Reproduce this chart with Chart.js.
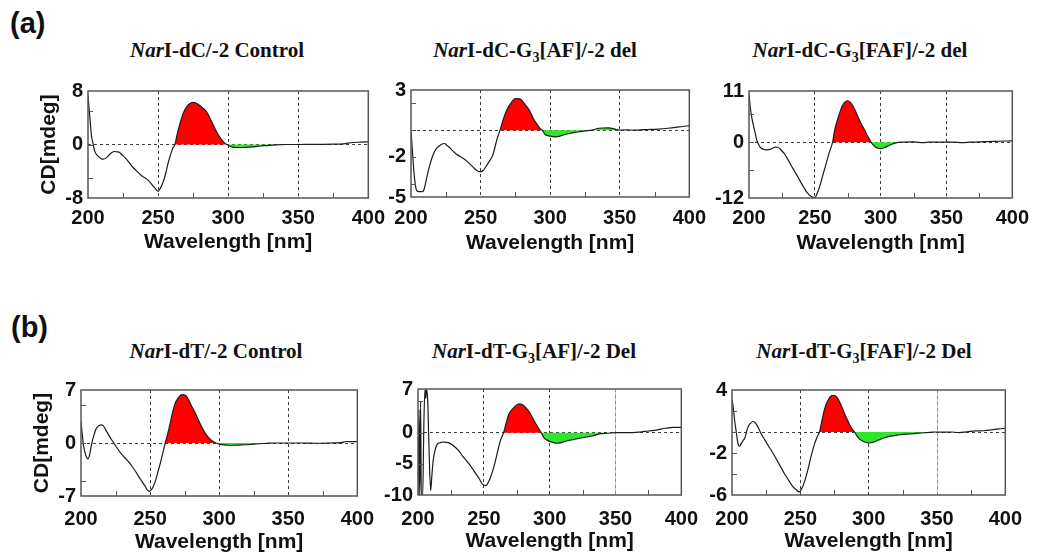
<!DOCTYPE html>
<html><head><meta charset="utf-8">
<script src="https://cdn.jsdelivr.net/npm/chart.js@4.4.1/dist/chart.umd.min.js"></script>
<style>
html,body{margin:0;padding:0;background:#fff;overflow:hidden;}
body{width:1037px;height:557px;position:relative;font-family:'Liberation Sans',Arial,sans-serif;}
canvas{position:absolute;}
.ttl{position:absolute;font-family:'Liberation Serif','Times New Roman',serif;font-weight:bold;font-size:21px;line-height:21px;white-space:nowrap;transform:translateX(-50%);color:#111;}
.ttl sub{font-size:14px;vertical-align:-5px;line-height:0;}
.lbl{position:absolute;font-weight:bold;font-size:29px;line-height:29px;color:#111;}
</style></head><body>
<div class="lbl" style="left:10px;top:9px">(a)</div>
<div class="lbl" style="left:11px;top:313px">(b)</div>
<div class="ttl" style="left:217px;top:40px"><i>Nar</i>I-dC/-2 Control</div>
<div class="ttl" style="left:535px;top:40px"><i>Nar</i>I-dC-G<sub>3</sub>[AF]/-2 del</div>
<div class="ttl" style="left:860px;top:40px"><i>Nar</i>I-dC-G<sub>3</sub>[FAF]/-2 del</div>
<div class="ttl" style="left:216px;top:341px"><i>Nar</i>I-dT/-2 Control</div>
<div class="ttl" style="left:534px;top:341px"><i>Nar</i>I-dT-G<sub>3</sub>[AF]/-2 Del</div>
<div class="ttl" style="left:864px;top:341px"><i>Nar</i>I-dT-G<sub>3</sub>[FAF]/-2 Del</div>
<script>
// ---------- data ----------
const xMajor = [200, 250, 300, 350, 400];
const xMinor = [225, 275, 325, 375];
const xGrid = [250, 300, 350];

// (a) NarI-dC/-2 Control
const wlA1 = [200,201,202.4,203.5,204.8,206.5,208,209.5,211,213,215.4,217,219,221,222.6,224,226,229,232,234.5,236.8,239,241.6,244,246,248.5,250,251.5,253.6,255.5,257,258.8,260.6,262,263.6,265.3,267,268.9,271.5,274.8,278,281,284.6,288,291.7,295,297.6,300,303,306,310,314,317.6,321,324.7,329,334,341,350,360,368,374.6,382,389,395,400];
const cdA1 = [7.3,4.9,1.5,0.2,-1.0,-1.6,-1.9,-2.15,-2.2,-2.0,-1.5,-1.2,-1.05,-1.1,-1.2,-1.5,-1.9,-2.6,-3.4,-3.9,-4.4,-4.8,-5.1,-5.6,-6.1,-6.7,-7.0,-6.6,-5.6,-4.3,-2.9,-1.6,-0.5,0,1.5,2.9,4.1,5.1,5.9,6.3,6.1,5.6,4.9,3.5,1.9,0.8,0.2,-0.1,-0.4,-0.45,-0.45,-0.4,-0.35,-0.27,-0.2,-0.12,-0.05,0,0,0.02,0.03,0.05,0.1,0.3,0.35,0.4];
const yTicksA1 = [-8,-5,0,5,8];
const yLabelsA1 = ['-8','','0','','8'];
const redA1 = [262,300], greenA1 = [300,341];

// (a) NarI-dC-G3[AF]/-2 del
const wlA2 = [200,201,202,203,204,206,208,209.5,211,213,214.7,216.5,218,220,222,224,226,227.8,230,232.7,235,237.4,240,242,245,247,249,250.5,252,254,256.5,259,261,262,264,266,268,270,271.7,273.5,275.3,277,279,281,283.6,286,288,290.5,293,294.3,296.4,300,303.6,307,310.7,314,318,321,325,330,334.9,338,342,346.6,350,355,361,367,372.7,378,384.6,390,395,400];
const cdA2 = [-0.1,-1.5,-3.0,-4.0,-4.5,-4.6,-4.6,-4.4,-3.7,-2.8,-2.2,-1.7,-1.4,-1.2,-1.05,-1.0,-1.15,-1.3,-1.55,-1.8,-1.95,-2.1,-2.3,-2.5,-2.8,-3.0,-3.1,-3.1,-3.0,-2.7,-2.3,-1.8,-1.0,-0.6,0,0.7,1.3,1.75,2.0,2.25,2.35,2.35,2.3,2.05,1.7,1.3,0.85,0.45,0.1,0,-0.33,-0.45,-0.5,-0.45,-0.33,-0.25,-0.17,-0.12,-0.05,0,0.14,0.16,0.17,0.08,0,0.02,0,0.03,0.05,0.08,0.14,0.2,0.27,0.33];
const yTicksA2 = [-5,-4,-2,0,2,3];
const yLabelsA2 = ['-5','','-2','','','3'];
const redA2 = [264,294.3], greenA2 = [294.3,350];

// (a) NarI-dC-G3[FAF]/-2 del
const wlA3 = [200,201,202.3,203.7,205,206,207.3,208.6,210.3,212,214,216,218,219.8,221.5,223.5,225,227,229.5,232,234.5,237,239.5,242,244,245.7,248,250,251.8,253.7,256,258.6,261,263.5,265,267,269,270.9,272.8,274.6,276.3,278,280.5,283,285.5,288,290.3,292.7,294.3,296,298,300,302.5,305,308,311,316,325,333,336,345,355,362,368,380,390,400];
const cdA3 = [10.3,7.4,5.0,3.2,1.6,0.35,-0.5,-1.1,-1.45,-1.6,-1.65,-1.55,-1.3,-1.05,-1.1,-1.4,-1.9,-2.5,-3.7,-5.0,-6.2,-7.4,-8.7,-9.9,-10.8,-11.3,-11.8,-11.9,-11.0,-9.5,-7.2,-4.6,-2.2,0,2.5,4.6,6.4,7.8,8.6,8.9,8.7,8.2,6.9,5.3,3.8,2.5,1.2,0,-0.6,-1.05,-1.3,-1.4,-1.2,-0.9,-0.5,-0.2,0,0.05,-0.1,0,0,0.03,-0.1,0,0.1,0.2,0.3];
const yTicksA3 = [-12,-6,0,6,11];
const yLabelsA3 = ['-12','','0','','11'];
const redA3 = [263.5,292.7], greenA3 = [292.7,316];

// (b) NarI-dT/-2 Control
const wlB1 = [200,201,201.7,202.7,203.6,204.4,205.2,206.3,207.6,209.3,211,213,214.8,216.5,218,220.5,223,225.5,227.8,230,232.6,235,237.4,240,242,244.2,246.4,248,249.3,250.8,252.4,254.2,256,257.8,259.5,261,263,264.8,266.5,268.3,270.5,273,275.5,277.9,280,282.6,285.3,288,291,294,297.6,300.5,303.6,307,310.7,316,322.6,328,334.5,340,350,360,370,380,388,392,396,400];
const cdB1 = [2.8,1.0,-0.2,-1.1,-1.7,-2.0,-2.1,-1.5,-0.2,1.0,1.9,2.3,2.4,2.2,1.7,0.9,0.2,-0.5,-1.1,-1.6,-2.1,-2.6,-3.2,-3.9,-4.5,-5.1,-5.7,-6.2,-6.4,-6.2,-5.7,-4.8,-3.6,-2.4,-1.1,0,1.4,2.8,4.2,5.3,6.0,6.4,6.3,5.7,4.9,4.0,2.9,1.9,1.0,0.4,0,-0.15,-0.25,-0.3,-0.3,-0.25,-0.2,-0.1,-0.05,0,0,0,-0.03,0,0.05,0.2,0.18,0.2];
const yTicksB1 = [-7,-5,0,5,7];
const yLabelsB1 = ['-7','','0','','7'];
const redB1 = [261,297.6], greenB1 = [297.6,334.5];

// (b) NarI-dT-G3[AF]/-2 Del
const wlB2 = [200,200.8,201.3,202,202.5,203.5,204.5,205.3,205.9,206.5,207.4,208.3,209.6,210.5,211.5,212.9,214,215.4,217,219,221,222.8,225,228,231,234,236.5,239,241.5,244,246.5,248.8,250,251.2,252.5,255,256.8,258.7,260.5,262.4,265,266.8,268.7,271,273.7,275.5,277.4,279,281,283.5,286,288.5,291,293.5,296,298,300,303,306,309.5,313.4,318,323,328,333,338,344,350,356,363,369,375,381,388,394,400];
const cdB2 = [-10.5,3.7,-10.5,5.0,-10.5,-10.5,2.0,7.0,5.5,7.0,5.0,-2.0,-9.3,-7.0,-4.5,-2.9,-2.1,-1.7,-1.6,-1.5,-1.55,-1.6,-1.8,-2.3,-2.9,-3.8,-4.4,-5.1,-5.8,-6.6,-7.4,-8.2,-8.4,-8.5,-8.3,-7.2,-6.1,-4.6,-3.0,-1.4,0,1.4,2.8,3.6,4.2,4.5,4.6,4.5,4.2,3.6,2.8,1.8,0.9,0,-0.9,-1.2,-1.4,-1.6,-1.7,-1.55,-1.3,-1.1,-0.9,-0.7,-0.5,-0.2,-0.1,0,0,0,0.1,0.26,0.4,0.7,0.85,0.85];
const yTicksB2 = [-10,-5,0,5,7];
const yLabelsB2 = ['-10','-5','0','','7'];
const redB2 = [265,293.5], greenB2 = [293.5,344];

// (b) NarI-dT-G3[FAF]/-2 Del
const wlB3 = [200,200.6,201.2,202,203,204,204.8,205.6,206.5,208,209.6,210.8,212,213.7,215.5,216.8,218,220,221.5,224,226.5,229.5,232.5,235.5,238.5,241.5,244.5,247,249.3,251,253,255.5,257.7,260,262.5,264,265.5,267,268.8,270.6,272.3,274,276,277.8,280,282.5,285,287.3,289.7,291.5,293.5,295.5,297,300,302,304,307.5,311.5,316,321,327,333,340,345,350,355,360,366,372,378,384,390,395,400];
const cdB3 = [3.1,2.6,2.0,1.0,0.1,-0.8,-1.3,-1.35,-1.15,-0.85,-0.5,0.1,0.55,0.85,1.0,0.9,0.7,0.2,-0.2,-0.75,-1.3,-1.9,-2.6,-3.3,-4.0,-4.6,-5.2,-5.5,-5.7,-5.4,-4.75,-3.6,-2.4,-1.3,-0.4,0,0.9,1.8,2.6,3.1,3.4,3.5,3.4,3.1,2.5,1.7,1.0,0.4,0,-0.4,-0.7,-0.85,-0.95,-1.05,-1.0,-0.95,-0.75,-0.55,-0.4,-0.3,-0.2,-0.15,-0.07,-0.03,0,-0.02,0,-0.05,0.02,0.1,0.12,0.2,0.3,0.35];
const yTicksB3 = [-6,-4,-2,0,2,4];
const yLabelsB3 = ['-6','','-2','','','4'];
const redB3 = [264,289.7], greenB3 = [289.7,345];

// ---------- layout (positions / styles) ----------
const SANS = "'Liberation Sans', Arial, sans-serif";
const panels = [
  {wl:wlA1, cd:cdA1, yt:yTicksA1, yl:yLabelsA1, red:redA1, green:greenA1, box:[88,88,369,198], yw:88, yTitle:true, ytPad:37, xPad:8, xTitleY:243, pr:24, special:false},
  {wl:wlA2, cd:cdA2, yt:yTicksA2, yl:yLabelsA2, red:redA2, green:greenA2, box:[411,87,691,197], yw:48, yTitle:false, ytPad:0, xPad:9, xTitleY:244, pr:24, special:false},
  {wl:wlA3, cd:cdA3, yt:yTicksA3, yl:yLabelsA3, red:redA3, green:greenA3, box:[749,88,1018,198], yw:48, yTitle:false, ytPad:0, xPad:8, xTitleY:244, pr:19, special:false},
  {wl:wlB1, cd:cdB1, yt:yTicksB1, yl:yLabelsB1, red:redB1, green:greenB1, box:[81,387,361,496], yw:81, yTitle:true, ytPad:30, xPad:11, xTitleY:543, pr:24, special:false},
  {wl:wlB2, cd:cdB2, yt:yTicksB2, yl:yLabelsB2, red:redB2, green:greenB2, box:[418,386,686,495], yw:48, yTitle:false, ytPad:0, xPad:12, xTitleY:542, pr:24, special:true},
  {wl:wlB3, cd:cdB3, yt:yTicksB3, yl:yLabelsB3, red:redB3, green:greenB3, box:[732,387,1010,495], yw:48, yTitle:false, ytPad:0, xPad:12, xTitleY:542, pr:24, special:true}
];

function pts(wl, cd, range) {
  const out = [];
  for (let i = 0; i < wl.length; i++) {
    if (!range || (wl[i] >= range[0] && wl[i] <= range[1])) out.push({x: wl[i], y: cd[i]});
  }
  return out;
}

const framePlugin = {
  id: 'frame',
  beforeDatasetsDraw(chart, args, opts) {
    if (!opts.special) return;
    const ctx = chart.ctx, a = chart.chartArea;
    const x = Math.round(chart.scales.x.getPixelForValue(350)) + 0.5;
    ctx.save();
    ctx.lineWidth = 1;
    ctx.strokeStyle = '#7fe3f2';
    ctx.beginPath(); ctx.moveTo(x, a.top); ctx.lineTo(x, a.bottom); ctx.stroke();
    ctx.strokeStyle = '#e8609a';
    ctx.setLineDash([3, 3]);
    ctx.beginPath(); ctx.moveTo(x, a.top); ctx.lineTo(x, a.bottom); ctx.stroke();
    ctx.restore();
  },
  afterDatasetsDraw(chart, args, opts) {
    const ctx = chart.ctx, a = chart.chartArea, xs = chart.scales.x, ys = chart.scales.y;
    ctx.save();
    ctx.strokeStyle = '#555';
    ctx.lineWidth = 1;
    ctx.beginPath();
    xMinor.forEach(v => { const x = Math.round(xs.getPixelForValue(v)) + 0.5; ctx.moveTo(x, a.bottom); ctx.lineTo(x, a.bottom - 5); });
    opts.yMinor.forEach(v => { const y = Math.round(ys.getPixelForValue(v)) + 0.5; ctx.moveTo(a.left, y); ctx.lineTo(a.left + 5, y); });
    ctx.stroke();
    ctx.lineWidth = 1.5;
    ctx.strokeRect(a.left, a.top, a.right - a.left, a.bottom - a.top);
    ctx.restore();
  }
};

panels.forEach(p => {
  const [L, T, R, B] = p.box;
  const padTop = 14;
  const cLeft = L - p.yw, cTop = T - padTop;
  const cBottom = p.xTitleY + 12;
  const W = R - cLeft + p.pr, H = cBottom - cTop;
  const xh = cBottom - B;
  const cv = document.createElement('canvas');
  cv.width = W; cv.height = H;
  cv.style.left = cLeft + 'px'; cv.style.top = cTop + 'px';
  cv.style.width = W + 'px'; cv.style.height = H + 'px';
  document.body.appendChild(cv);
  const yMin = p.yt[0], yMax = p.yt[p.yt.length - 1];
  const yMinor = p.yt.slice(1, -1);
  new Chart(cv, {
    type: 'line',
    data: {
      datasets: [
        {data: pts(p.wl, p.cd), borderColor: '#1c1c1c', borderWidth: 1.2, pointRadius: 0, fill: false, cubicInterpolationMode: 'monotone', order: 0},
        {data: pts(p.wl, p.cd, p.red), borderColor: 'rgba(0,0,0,0)', borderWidth: 0, backgroundColor: '#ff0000', pointRadius: 0, fill: {value: 0}, cubicInterpolationMode: 'monotone', order: 1},
        {data: pts(p.wl, p.cd, p.green), borderColor: 'rgba(0,0,0,0)', borderWidth: 0, backgroundColor: '#2ee62e', pointRadius: 0, fill: {value: 0}, cubicInterpolationMode: 'monotone', order: 2}
      ]
    },
    options: {
      responsive: false, animation: false, devicePixelRatio: 1,
      layout: {padding: {top: padTop, right: p.pr, left: 0, bottom: 0}},
      plugins: {legend: {display: false}, tooltip: {enabled: false}, frame: {special: p.special, yMinor: yMinor}},
      events: [],
      scales: {
        x: {
          type: 'linear', min: 200, max: 400,
          afterBuildTicks: s => { s.ticks = xMajor.concat(xMinor).sort((a, b) => a - b).map(v => ({value: v})); },
          afterFit: s => { s.height = xh; },
          ticks: {autoSkip: false, maxRotation: 0, minRotation: 0, padding: p.xPad, color: '#111',
                  font: {family: SANS, size: 20, weight: 'bold'},
                  callback: v => xMajor.includes(v) ? String(v) : ''},
          grid: {drawTicks: false, lineWidth: 1,
                 color: c => (c.tick && xGrid.includes(c.tick.value) && !(p.special && c.tick.value === 350)) ? '#3a3a3a' : 'rgba(0,0,0,0)'},
          border: {display: false, dash: [3, 3]},
          title: {display: true, text: 'Wavelength [nm]', color: '#111', padding: {top: 0, bottom: 0},
                  font: {family: SANS, size: 21, weight: 'bold'}}
        },
        y: {
          min: yMin, max: yMax,
          afterBuildTicks: s => { s.ticks = p.yt.map(v => ({value: v})); },
          afterFit: s => { s.width = p.yw; },
          ticks: {autoSkip: false, padding: 5, color: '#111',
                  font: {family: SANS, size: 20, weight: 'bold'},
                  callback: v => { const i = p.yt.indexOf(v); return i >= 0 ? p.yl[i] : ''; }},
          grid: {drawTicks: false, lineWidth: 1,
                 color: c => (c.tick && c.tick.value === 0) ? '#3a3a3a' : 'rgba(0,0,0,0)'},
          border: {display: false, dash: [3, 3]},
          title: {display: p.yTitle, text: 'CD[mdeg]', color: '#111', padding: {top: p.ytPad, bottom: 0},
                  font: {family: SANS, size: 21, weight: 'bold'}}
        }
      }
    },
    plugins: [framePlugin]
  });
});
</script>
</body></html>
